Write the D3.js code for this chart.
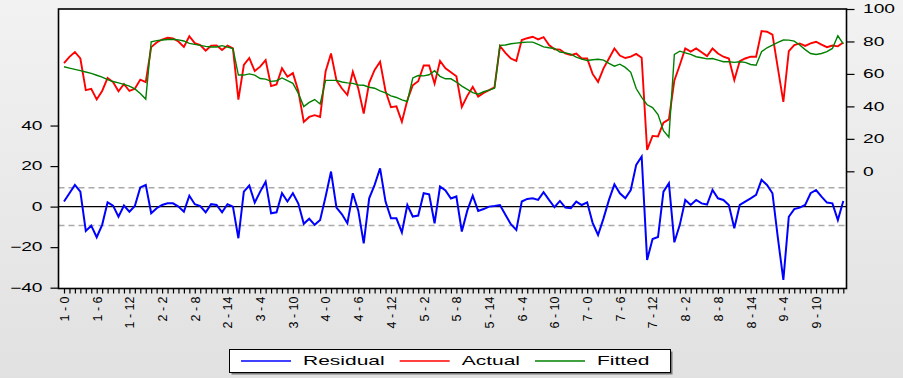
<!DOCTYPE html>
<html>
<head>
<meta charset="utf-8">
<script src="https://cdn.jsdelivr.net/npm/d3@7"></script>
<style>
html, body { margin: 0; padding: 0; }
body { width: 903px; height: 378px; overflow: hidden; }
text { font-family: "Liberation Sans", Arial, sans-serif; fill: #000; }
</style>
</head>
<body>
<div id="chart"></div>
<script>
// panel observations: 9 cross sections x 16 periods
var actual = [
  66.7, 70.5, 73.5, 69.5, 50.0, 50.8, 44.3, 49.5, 57.5, 55.0, 49.3, 53.8, 49.5, 50.8, 56.5, 55.0,
  76.5, 79.4, 81.2, 82.3, 81.9, 80.0, 76.7, 83.2, 79.0, 77.8, 74.3, 77.4, 77.6, 74.7, 77.5, 75.7,
  44.2, 65.5, 69.8, 61.8, 64.5, 68.5, 52.5, 53.5, 63.5, 58.3, 60.5, 49.5, 30.4, 33.5, 34.6, 33.5,
  61.5, 72.6, 56.0, 51.0, 47.0, 61.3, 51.0, 35.6, 54.5, 62.5, 67.5, 49.5, 39.5, 40.0, 30.5, 43.8,
  53.0, 55.5, 65.2, 65.2, 54.0, 68.0, 63.5, 61.0, 58.5, 39.7, 46.5, 52.0, 46.0, 48.3, 50.0, 51.8,
  77.2, 73.0, 69.5, 68.0, 80.9, 82.0, 82.9, 81.3, 82.7, 77.8, 75.2, 75.0, 72.6, 71.6, 72.5, 69.5,
  69.5, 60.0, 55.1, 63.4, 69.5, 75.7, 71.3, 69.8, 70.6, 72.3, 70.0, 13.2, 21.8, 21.5, 30.0, 32.0,
  56.0, 65.5, 75.7, 73.7, 75.7, 73.3, 71.0, 75.7, 72.6, 70.6, 69.5, 56.2, 67.9, 69.5, 70.6, 70.6,
  86.4, 86.0, 84.2, 63.4, 42.8, 74.0, 77.8, 78.8, 77.3, 78.8, 79.8, 78.0, 76.5, 77.5, 77.0, 79.4
];
var fitted = [
  64.4, 63.6, 62.8, 62.0, 61.2, 60.3, 59.2, 58.0, 56.5, 55.3, 54.5, 53.6, 52.5, 50.8, 48.0, 44.5,
  79.8, 80.5, 80.9, 81.2, 81.4, 81.0, 80.3, 78.8, 78.2, 77.6, 77.0, 76.6, 76.6, 77.4, 76.5, 75.6,
  59.3, 59.3, 60.0, 59.3, 57.2, 56.8, 55.4, 55.8, 57.5, 55.8, 54.2, 48.0, 39.9, 42.5, 44.2, 41.5,
  56.0, 56.0, 56.0, 55.0, 54.5, 54.2, 53.2, 53.0, 51.8, 51.2, 49.5, 48.3, 46.5, 45.5, 44.0, 43.0,
  57.5, 59.0, 58.8, 59.5, 62.0, 58.5, 57.0, 57.0, 55.0, 52.5, 50.5, 48.5, 47.5, 49.0, 50.0, 51.2,
  77.6, 77.8, 78.6, 79.0, 79.4, 79.6, 79.6, 78.2, 76.7, 76.1, 75.7, 73.5, 73.0, 72.2, 70.3, 69.1,
  68.3, 68.7, 69.0, 68.5, 66.5, 64.8, 66.0, 64.0, 61.0, 51.0, 45.5, 41.0, 39.3, 35.0, 25.0, 21.0,
  72.0, 74.0, 73.0, 72.0, 70.6, 70.0, 69.3, 69.5, 68.5, 67.5, 67.5, 67.1, 67.5, 67.1, 65.8, 65.4,
  73.7, 76.1, 77.8, 79.4, 80.9, 80.8, 80.2, 77.8, 75.0, 72.6, 72.0, 72.6, 73.7, 75.7, 83.5, 78.5
];
var residual = [
  2.5, 6.6, 10.7, 7.4, -12.0, -9.4, -15.1, -9.0, 2.1, 0.5, -5.0, 0.5, -2.5, 0.3, 9.5, 10.7,
  -3.3, -0.8, 0.8, 1.6, 1.6, 0.0, -2.5, 5.4, 1.2, 0.3, -2.8, 1.2, 0.8, -2.8, 1.2, 0.0,
  -15.6, 7.4, 10.4, 2.0, 7.4, 12.3, -3.3, -2.8, 6.6, 2.5, 6.6, 1.5, -8.5, -6.0, -9.0, -6.6,
  4.9, 17.3, -0.5, -3.8, -8.2, 6.6, -2.0, -18.1, 4.1, 10.7, 18.9, 2.5, -5.8, -5.8, -12.7, 0.8,
  -4.9, -4.4, 6.6, 6.1, -8.2, 9.9, 8.0, 4.0, 5.0, -12.3, -2.0, 5.4, -2.1, -1.2, 0.0, 0.3,
  0.8, -4.0, -8.7, -11.5, 2.5, 3.8, 4.1, 3.3, 7.1, 3.3, -0.3, 2.8, -0.5, -0.8, 2.5, 0.8,
  2.1, -8.0, -14.0, -5.8, 3.3, 11.0, 6.6, 4.1, 8.2, 20.6, 24.7, -26.3, -16.0, -15.0, 7.4, 11.5,
  -17.6, -9.0, 3.3, 0.8, 3.3, 1.6, 1.0, 8.2, 4.1, 3.3, 0.8, -10.7, 0.8, 2.5, 4.1, 5.8,
  13.2, 10.7, 6.6, -15.6, -36.2, -5.0, -1.2, -0.5, 0.8, 6.6, 8.2, 4.9, 2.0, 1.6, -6.6, 2.8
];

// one label every 6th observation
var obsLabels = ["1 - 0", "1 - 6", "1 - 12", "2 - 2", "2 - 8", "2 - 14", "3 - 4", "3 - 10",
  "4 - 0", "4 - 6", "4 - 12", "5 - 2", "5 - 8", "5 - 14", "6 - 4", "6 - 10", "7 - 0", "7 - 6",
  "7 - 12", "8 - 2", "8 - 8", "8 - 14", "9 - 4", "9 - 10"];
var labelStep = 6;
var leftTicks = [-40, -20, 0, 20, 40];
var rightTicks = [0, 20, 40, 60, 80, 100];
var seBand = 9.3;   // +/- 1 s.e. of the residual
var seriesNames = ["Residual", "Actual", "Fitted"];
var seriesColors = ["#0000ff", "#ff0000", "#008000"];

var svgWidth = 903, svgHeight = 378;
var plot = {left: 58.5, right: 846.5, top: 9, bottom: 288.5};
var stretch = 1.6;   // wide looking numerals

var svg = d3.select("#chart").append("svg")
    .attr("width", svgWidth)
    .attr("height", svgHeight);

var defs = svg.append("defs");
var grad = defs.append("linearGradient")
    .attr("id", "bg")
    .attr("x1", 0).attr("y1", 0).attr("x2", 0).attr("y2", 1);
grad.append("stop").attr("offset", "0%").attr("stop-color", "#f2f2f2");
grad.append("stop").attr("offset", "100%").attr("stop-color", "#e1e1e1");

defs.append("clipPath").attr("id", "clip")
  .append("rect")
    .attr("x", plot.left).attr("y", plot.top)
    .attr("width", plot.right - plot.left)
    .attr("height", plot.bottom - plot.top);

svg.append("rect")
    .attr("width", svgWidth).attr("height", svgHeight)
    .attr("fill", "url(#bg)");

svg.append("rect")
    .attr("x", plot.left).attr("y", plot.top)
    .attr("width", plot.right - plot.left)
    .attr("height", plot.bottom - plot.top)
    .attr("fill", "#fff");

var x = d3.scaleLinear()
    .domain([0, actual.length - 1])
    .range([64, 843.3]);

var yLeft = d3.scaleLinear()
    .domain([-40.4, 97.5])
    .range([plot.bottom, plot.top]);

var yRight = d3.scaleLinear()
    .domain([-72.2, 100])
    .range([plot.bottom, plot.top]);

var g = svg.append("g").attr("clip-path", "url(#clip)");

// residual reference lines
g.selectAll(".se")
    .data([seBand, -seBand])
    .enter().append("line")
    .attr("class", "se")
    .attr("x1", plot.left).attr("x2", plot.right)
    .attr("y1", function(d) { return yLeft(d); })
    .attr("y2", function(d) { return yLeft(d); })
    .attr("stroke", "#aaaaaa")
    .attr("stroke-width", 1.4)
    .attr("stroke-dasharray", "6,4");

g.append("line")
    .attr("x1", plot.left).attr("x2", plot.right)
    .attr("y1", yLeft(0)).attr("y2", yLeft(0))
    .attr("stroke", "#000")
    .attr("stroke-width", 1.4);

var lineLeft = d3.line()
    .x(function(d, i) { return x(i); })
    .y(function(d) { return yLeft(d); });

var lineRight = d3.line()
    .x(function(d, i) { return x(i); })
    .y(function(d) { return yRight(d); });

g.append("path")
    .datum(residual)
    .attr("d", lineLeft)
    .attr("fill", "none")
    .attr("stroke", seriesColors[0])
    .attr("stroke-width", 2);

g.append("path")
    .datum(actual)
    .attr("d", lineRight)
    .attr("fill", "none")
    .attr("stroke", seriesColors[1])
    .attr("stroke-width", 1.9);

g.append("path")
    .datum(fitted)
    .attr("d", lineRight)
    .attr("fill", "none")
    .attr("stroke", seriesColors[2])
    .attr("stroke-width", 1.4);

// frame
svg.append("rect")
    .attr("x", plot.left).attr("y", plot.top)
    .attr("width", plot.right - plot.left)
    .attr("height", plot.bottom - plot.top)
    .attr("fill", "none")
    .attr("stroke", "#000")
    .attr("stroke-width", 1.6);

// axes
var leftAxis = svg.append("g")
    .attr("transform", "translate(" + plot.left + ",0)")
    .call(d3.axisLeft(yLeft).tickValues(leftTicks).tickSize(8).tickFormat(d3.format("d")));

var rightAxis = svg.append("g")
    .attr("transform", "translate(" + plot.right + ",0)")
    .call(d3.axisRight(yRight).tickValues(rightTicks).tickSize(8).tickFormat(d3.format("d")));

[leftAxis, rightAxis].forEach(function(ax, k) {
    ax.select(".domain").remove();
    ax.selectAll(".tick line").attr("stroke", "#000").attr("stroke-width", 1.2);
    ax.selectAll(".tick text")
        .attr("x", (k === 0 ? -16 : 16.5) / stretch)
        .attr("transform", "scale(" + stretch + ",1)")
        .style("font-size", "12px")
        .attr("fill", "#111");
});

var bottomAxis = svg.append("g")
    .attr("transform", "translate(0," + plot.bottom + ")")
    .call(d3.axisBottom(x)
        .tickValues(d3.range(actual.length))
        .tickSize(5)
        .tickFormat(function(i) { return i % labelStep === 0 ? obsLabels[i / labelStep] : ""; }));

bottomAxis.select(".domain").remove();
bottomAxis.selectAll(".tick line").attr("stroke", "#000").attr("stroke-width", 1.2);
bottomAxis.selectAll(".tick text")
    .attr("transform", "rotate(-90)")
    .attr("text-anchor", "end")
    .attr("x", -8)
    .attr("y", 0)
    .attr("dy", "0.35em")
    .style("font-size", "12.5px")
    .attr("fill", "#111");

// legend
var legend = svg.append("g").attr("class", "legend");
var box = {x: 229.5, y: 349.5, w: 441, h: 23};

legend.append("rect")
    .attr("x", box.x + 2).attr("y", box.y + 2)
    .attr("width", box.w).attr("height", box.h)
    .attr("fill", "#777");
legend.append("rect")
    .attr("x", box.x).attr("y", box.y)
    .attr("width", box.w).attr("height", box.h)
    .attr("fill", "#fff")
    .attr("stroke", "#000")
    .attr("stroke-width", 1);

var textStretch = 1.75;
var cursor = box.x + 11.5;
seriesNames.forEach(function(name, i) {
    legend.append("line")
        .attr("x1", cursor).attr("x2", cursor + 50)
        .attr("y1", box.y + 11.5).attr("y2", box.y + 11.5)
        .attr("stroke", seriesColors[i])
        .attr("stroke-width", 1.3);
    var t = legend.append("text")
        .attr("x", (cursor + 62) / textStretch)
        .attr("y", box.y + 15.8)
        .attr("transform", "scale(" + textStretch + ",1)")
        .style("font-size", "12px")
        .attr("fill", "#111")
        .text(name);
    cursor = cursor + 62 + t.node().getComputedTextLength() * textStretch + 15;
});
</script>
</body>
</html>
